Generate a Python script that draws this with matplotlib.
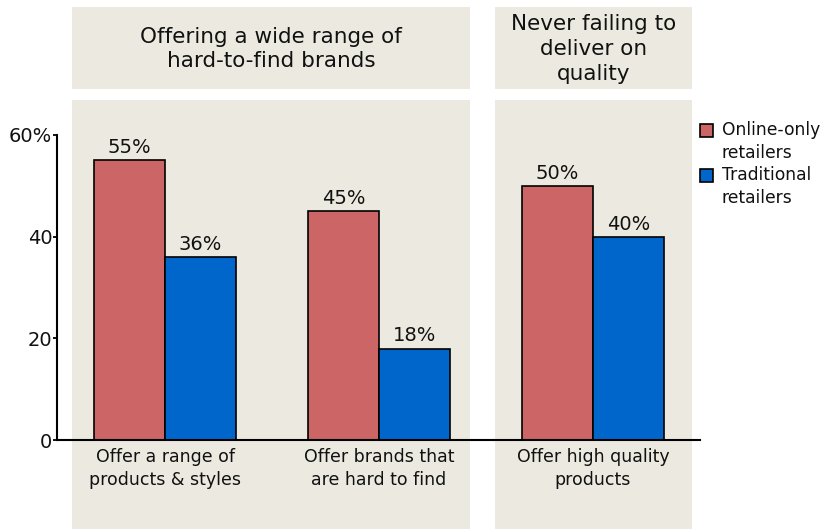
import matplotlib.pyplot as plt
from matplotlib.patches import Rectangle
import numpy as np

categories = ["Offer a range of\nproducts & styles",
              "Offer brands that\nare hard to find",
              "Offer high quality\nproducts"]
online_only = [55, 45, 50]
traditional = [36, 18, 40]
series_names = ["Online-only\nretailers", "Traditional\nretailers"]
panel_titles = ["Offering a wide range of\nhard-to-find brands",
                "Never failing to\ndeliver on\nquality"]
y_ticks = [0, 20, 40, 60]
y_tick_labels = ["0", "20", "40", "60%"]

RED = "#CC6666"
BLUE = "#0066CC"
PANEL = "#ECEAE0"
INK = "#111111"
FS = 14

W, H = 828, 529
fig = plt.figure(figsize=(W / 100, H / 100), dpi=100)
plt.rcParams['font.family'] = ['DejaVu Sans']


def px_rect(x0, y0, x1, y1, **kw):
    # rectangle given in pixel coords measured from the top-left corner
    return Rectangle((x0 / W, 1 - y1 / H), (x1 - x0) / W, (y1 - y0) / H,
                     transform=fig.transFigure, **kw)


# panel backgrounds and header boxes
for (x0, x1), title, ls in zip([(72, 470), (495, 692)], panel_titles, [1.22, 1.32]):
    fig.patches.append(px_rect(x0, 100, x1, 529, facecolor=PANEL, edgecolor="none", zorder=-5))
    fig.patches.append(px_rect(x0, 7, x1, 89, facecolor=PANEL, edgecolor="none", zorder=-5))
    fig.text((x0 + x1) / 2 / W, 1 - 49 / H, title, ha="center", va="center",
             fontsize=15.5, color=INK, linespacing=ls)

ax = fig.add_axes([57 / W, (H - 440) / H, (700 - 57) / W, 305 / H])
ax.set_facecolor("none")
ax.set_zorder(1)

x = np.arange(len(categories))
bw = 71 / 214
b1 = ax.bar(x - bw / 2, online_only, bw, color=RED, edgecolor="black",
            linewidth=1.2, label=series_names[0])
b2 = ax.bar(x + bw / 2, traditional, bw, color=BLUE, edgecolor="black",
            linewidth=1.2, label=series_names[1])
for bars, vals in [(b1, online_only), (b2, traditional)]:
    for rect, v in zip(bars, vals):
        ax.text(rect.get_x() + rect.get_width() / 2, v + 0.6, f"{v}%",
                ha="center", va="bottom", fontsize=FS, color=INK)

ax.set_xlim(-0.505, 2.5)
ax.set_ylim(0, 60)
ax.set_yticks(y_ticks)
ax.set_yticklabels(y_tick_labels, fontsize=FS, color=INK)
ax.set_xticks(x)
ax.set_xticklabels(categories, fontsize=12.5, color=INK, linespacing=1.3)
ax.tick_params(axis="x", length=0, pad=6)
ax.tick_params(axis="y", length=3, width=1.3, direction="out", pad=0.4)
for s in ["top", "right"]:
    ax.spines[s].set_visible(False)
for s in ["left", "bottom"]:
    ax.spines[s].set_linewidth(1.5)

# legend: a swatch next to the first line of each two-line label
for i, (name, color) in enumerate(zip(series_names, [RED, BLUE])):
    top = 123 + i * 45
    fig.patches.append(px_rect(700, top + 1, 713, top + 14, facecolor=color,
                               edgecolor="black", linewidth=1.2, zorder=2))
    fig.text(722 / W, 1 - (top - 2) / H, name, ha="left", va="top",
             fontsize=12.3, color=INK, linespacing=1.38)

fig.savefig("out.png", dpi=100)
